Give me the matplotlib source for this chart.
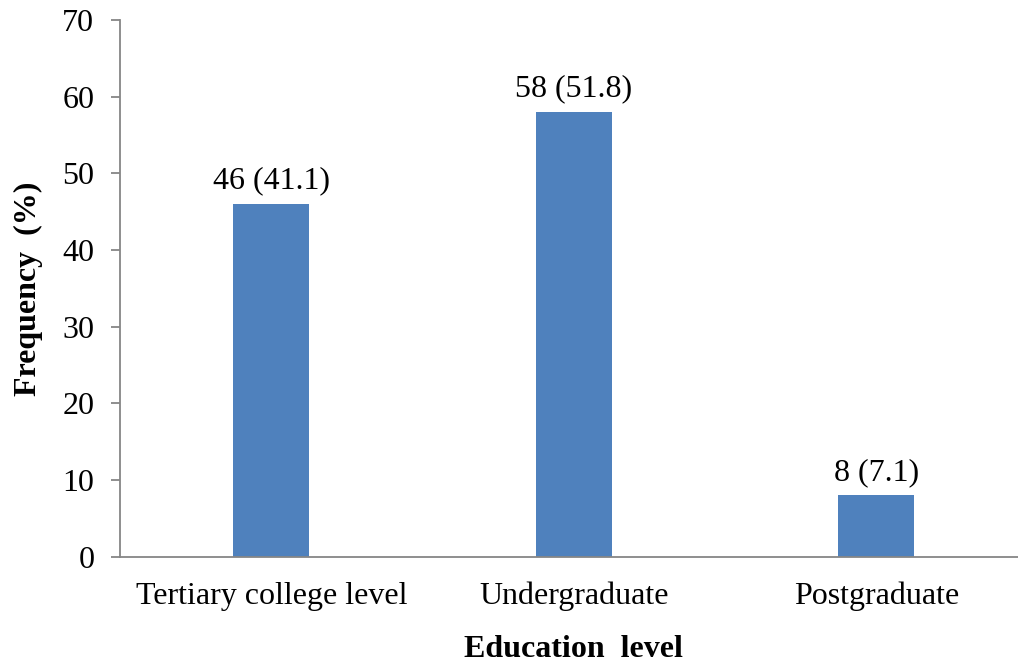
import matplotlib
matplotlib.use("Agg")
from matplotlib import pyplot as plt
import numpy as np

# education level breakdown: counts and percentages
categories = ["Tertiary college level", "Undergraduate", "Postgraduate"]
counts = [46, 58, 8]
percents = [41.1, 51.8, 7.1]

plt.rcParams['font.family'] = ['Liberation Serif', 'DejaVu Serif']
FS = 23

fig = plt.figure(figsize=(10.18, 6.65), dpi=100)
ax = fig.add_axes([120 / 1018, 108.3 / 665, 907.5 / 1018, 536.7 / 665])

x = np.arange(len(categories))
ax.bar(x, counts, width=0.25, color='#4F81BD', zorder=2)

for xi, c, p in zip(x, counts, percents):
    ax.annotate(f"{c} ({p})", (xi, c), xytext=(0, 6), textcoords='offset points',
                ha='center', va='bottom', fontsize=FS)

ax.set_xlim(-0.5, 2.5)
ax.set_ylim(0, 70)
ax.set_yticks(range(0, 71, 10))
ax.set_xticks(x, categories)

for side in ['top', 'right']:
    ax.spines[side].set_visible(False)
for side in ['left', 'bottom']:
    ax.spines[side].set_color('#868686')
    ax.spines[side].set_linewidth(1.3)

ax.tick_params(axis='y', direction='out', length=6.5, width=1.3, color='#868686',
               labelsize=FS, pad=12)
ax.tick_params(axis='x', length=0, labelsize=FS, pad=18)

ax.set_ylabel("Frequency  (%)", fontsize=FS, fontweight='bold', labelpad=14)
ax.set_xlabel("Education  level", fontsize=FS, fontweight='bold', labelpad=17)

fig.savefig("out.png", dpi=100)
